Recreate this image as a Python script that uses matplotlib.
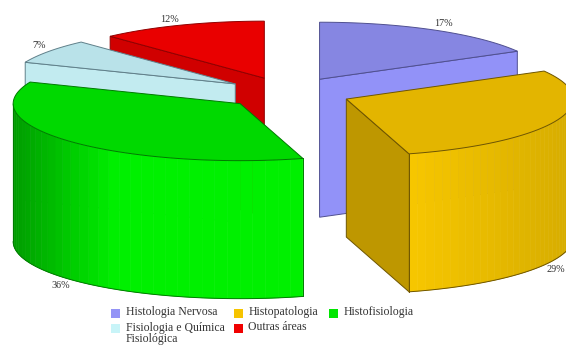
import numpy as np
import matplotlib
matplotlib.use("Agg")
import matplotlib.pyplot as plt
from matplotlib.patches import Polygon, Rectangle
from matplotlib.colors import to_rgb

# Share of each area, as printed next to its slice
categories = ["Histologia Nervosa", "Histopatologia", "Histofisiologia",
              "Fisiologia e Química\nFisiológica", "Outras áreas"]
percent = [17, 29, 36, 7, 12]
percent_labels = ["17%", "29%", "36%", "7%", "12%"]

top_colors = ["#8686E2", "#E3B500", "#00D900", "#B9E2E9", "#E90000"]
wall_colors = ["#9292F8", "#BE9700", "#00F000", "#C2EBF0", "#D00000"]
rim_colors = ["#F6C600", "#00F000"]
edge_colors = ["#505090", "#6E5500", "#007A00", "#60808A", "#900000"]
legend_colors = ["#9494F6", "#F6C400", "#00E600", "#C8F4F8", "#F00000"]

# Projection of the pie on the page, in pixels
CX, CY = 287.5, 93
RX, RY = 227, 57
DEPTH = 138
EXPLODE = 0.28


def rim(theta, ox, oy):
    return ox + RX * np.sin(theta), oy - RY * np.cos(theta)


def shade(theta):
    # Surface brightness of the curved wall at a given clockwise angle
    s = np.sin(theta)
    if s < -0.55:
        return 1 - 0.35 * (-s - 0.55) / 0.45
    if s > 0.3:
        return 1 - 0.13 * (s - 0.3) / 0.7
    return 1.0


fig = plt.figure(figsize=(5.66, 3.45), dpi=100)
ax = fig.add_axes([0, 0, 1, 1])
ax.set_xlim(0, 566)
ax.set_ylim(345, 0)
ax.axis("off")

plt.rcParams["font.family"] = "Liberation Serif"

total = sum(percent)
edges = np.radians(np.cumsum([0] + percent) * 360 / total)

# Painter's order: back slices first, so nearer ones cover them
spans = {i: (edges[i], edges[i + 1]) for i in range(len(percent))}
offsets = {}
for i, (a, b) in spans.items():
    mid = (a + b) / 2
    offsets[i] = (CX + EXPLODE * RX * np.sin(mid), CY - EXPLODE * RY * np.cos(mid))

for i in [4, 0, 3, 2, 1]:
    a, b = spans[i]
    ox, oy = offsets[i]
    zbase = 2 + [4, 0, 3, 2, 1].index(i) * 10

    # Flat radial wall, on whichever cut edge faces the viewer
    for ang, visible in ((a, np.sin(a) < -1e-6), (b, np.sin(b) > 1e-6)):
        if visible:
            x, y = rim(ang, ox, oy)
            ax.add_patch(Polygon([(ox, oy), (x, y), (x, y + DEPTH), (ox, oy + DEPTH)],
                                 closed=True, fc=wall_colors[i], ec=edge_colors[i],
                                 lw=0.7, zorder=zbase))

    # Curved outer wall in narrow shaded bands
    lo, hi = max(a, np.pi / 2), min(b, 3 * np.pi / 2)
    if hi > lo:
        base = np.array(to_rgb(rim_colors[0] if i == 1 else rim_colors[1]))
        ticks = np.linspace(lo, hi, 34)
        for t0, t1 in zip(ticks[:-1], ticks[1:]):
            seg = np.linspace(t0, t1, 5)
            x, y = rim(seg, ox, oy)
            pts = np.r_[np.c_[x, y], np.c_[x, y + DEPTH][::-1]]
            col = np.clip(base * shade((t0 + t1) / 2), 0, 1)
            ax.add_patch(Polygon(pts, closed=True, fc=col, ec=col, lw=0.4, zorder=zbase + 1))
        full = np.linspace(lo, hi, 120)
        x, y = rim(full, ox, oy)
        ax.plot(x, y + DEPTH, color=edge_colors[i], lw=0.7, zorder=zbase + 2)
        xe, ye = rim(np.array([lo, hi]), ox, oy)
        ax.plot([xe[0], xe[0]], [ye[0], ye[0] + DEPTH], color=edge_colors[i], lw=0.7, zorder=zbase + 2)
        ax.plot([xe[1], xe[1]], [ye[1], ye[1] + DEPTH], color=edge_colors[i], lw=0.7, zorder=zbase + 2)

    # Top face
    arc = np.linspace(a, b, 120)
    x, y = rim(arc, ox, oy)
    pts = np.r_[[(ox, oy)], np.c_[x, y]]
    ax.add_patch(Polygon(pts, closed=True, fc=top_colors[i], ec=edge_colors[i],
                         lw=0.7, zorder=zbase + 3))

# Percentage labels beside the slices
label_pos = [(443, 23.5), (556, 270), (61, 286), (39, 46), (169, 20)]
for text, (x, y) in zip(percent_labels, label_pos):
    ax.text(x, y, text, ha="center", va="center", fontsize=7.3, color="#303030", zorder=80)

# Legend laid out in two rows
legend_pos = [(111, 313), (234, 313), (329, 313), (111, 328), (234, 328)]
for name, col, (x, y) in zip(categories, legend_colors, legend_pos):
    ax.add_patch(Rectangle((x, y - 4.5), 9, 9, fc=col, ec="none", zorder=80))
    ax.text(x + 14.5, y - 6.5, name, ha="left", va="top", fontsize=8.5, color="#333333",
            linespacing=0.98, zorder=80)

fig.savefig("out.png", dpi=100)
